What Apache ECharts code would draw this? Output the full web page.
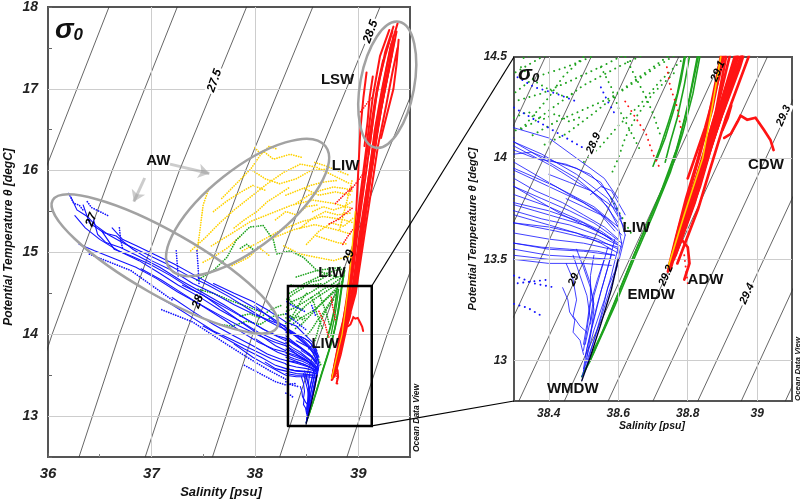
<!DOCTYPE html>
<html>
<head>
<meta charset="utf-8">
<script src="https://cdn.jsdelivr.net/npm/echarts/dist/echarts.min.js"></script>
<style>
html, body { margin: 0; padding: 0; background: #fff; }
#chart { width: 803px; height: 501px; }
</style>
</head>
<body>
<div id="chart"></div>
<script>
// isopycnals, left panel: S read at the given temperatures
var leftSigmas = ['26.5', '27', '27.5', '28', '28.5', '29', '29.5'];
var leftIsoT = [12.5, 14, 16, 18];
var leftIsoS = [
    [35.00, 35.39, 35.97, 36.59],
    [35.65, 36.04, 36.62, 37.25],
    [36.30, 36.69, 37.27, 37.92],
    [36.94, 37.33, 37.91, 38.56],
    [37.59, 37.98, 38.56, 39.21],
    [38.24, 38.63, 39.21, 39.86],
    [38.89, 39.28, 39.86, 40.51]
];
var leftIsoLabels = ['27', '27.5', '28', '28.5', '29'];
var leftIsoLabelPos = [[36.42, 15.40], [37.61, 17.10], [37.45, 14.40], [39.12, 17.70], [38.91, 14.95]];

// isopycnals, right panel
var rightSigmas = ['28.7', '28.8', '28.9', '29', '29.1', '29.2', '29.3', '29.4', '29.5', '29.6'];
var rightIsoT = [12.8, 14.5];
var rightIsoS = [
    [37.930, 38.390], [38.058, 38.522], [38.186, 38.646], [38.314, 38.774], [38.445, 38.900],
    [38.571, 39.029], [38.700, 39.160], [38.829, 39.290], [38.954, 39.410], [39.081, 39.540]
];
var rightIsoLabels = ['28.9', '29', '29.1', '29.2', '29.3', '29.4'];
var rightIsoLabelPos = [[38.529, 14.074], [38.472, 13.40], [38.887, 14.43], [38.738, 13.42], [39.076, 14.21], [38.971, 13.33]];

// profiles [salinity, theta]
var blueTraces = [
    [[36.22,15.68],[36.28,15.52],[36.38,15.44],[36.46,15.33],[36.58,15.22],[36.75,15.10],[36.95,14.98],[37.15,14.86],[37.35,14.72],[37.55,14.60],[37.75,14.46],[37.95,14.30],[38.10,14.18],[38.22,14.10],[38.30,14.06],[38.41,13.96],[38.52,13.84],[38.60,13.74],[38.62,13.62]],
    [[36.44,15.40],[36.48,15.22],[36.56,15.12],[36.70,15.06],[36.88,14.95],[37.08,14.82],[37.28,14.66],[37.48,14.52],[37.70,14.36],[37.90,14.20],[38.08,14.06],[38.22,13.98],[38.30,13.95],[38.42,13.86],[38.53,13.76],[38.60,13.66],[38.61,13.58]],
    [[36.30,15.10],[36.45,15.02],[36.65,14.92],[36.85,14.82],[37.05,14.68],[37.25,14.52],[37.45,14.38],[37.65,14.24],[37.85,14.10],[38.05,13.98],[38.20,13.90],[38.30,13.86],[38.44,13.72],[38.56,13.62],[38.61,13.56]],
    [[36.62,15.30],[36.72,15.16],[36.86,15.08],[37.02,14.98],[37.22,14.86],[37.42,14.72],[37.62,14.58],[37.82,14.45],[38.00,14.32],[38.14,14.22],[38.26,14.12],[38.30,14.08],[38.38,14.02],[38.48,13.92],[38.57,13.80],[38.62,13.65]],
    [[36.90,14.80],[37.10,14.66],[37.30,14.50],[37.50,14.34],[37.70,14.18],[37.88,14.02],[38.04,13.90],[38.18,13.82],[38.30,13.78],[38.40,13.74],[38.50,13.68],[38.58,13.60]],
    [[37.20,14.45],[37.40,14.28],[37.60,14.12],[37.80,13.98],[37.98,13.86],[38.12,13.76],[38.24,13.70],[38.30,13.68],[38.42,13.64],[38.52,13.60],[38.60,13.56]],
    [[37.50,14.10],[37.70,13.96],[37.90,13.82],[38.06,13.72],[38.20,13.62],[38.30,13.58],[38.40,13.55],[38.50,13.54],[38.59,13.52]],
    [[37.80,13.88],[37.98,13.72],[38.12,13.62],[38.24,13.54],[38.30,13.50],[38.40,13.48],[38.50,13.48],[38.58,13.47]],
    [[38.00,14.35],[38.15,14.20],[38.25,14.10],[38.30,14.04],[38.36,14.00],[38.45,13.97],[38.52,13.92],[38.56,13.85],[38.59,13.78],[38.61,13.70]],
    [[36.26,15.45],[36.36,15.30],[36.50,15.16],[36.68,15.02],[36.88,14.90],[37.06,14.76],[37.26,14.60],[37.46,14.46],[37.66,14.30],[37.86,14.16],[38.04,14.02],[38.18,13.94],[38.30,13.88]],
    [[36.52,15.26],[36.64,15.04],[36.80,14.96],[36.98,14.86],[37.18,14.72],[37.38,14.56],[37.58,14.42],[37.78,14.28],[37.98,14.14],[38.14,14.02],[38.30,13.92]],
    [[36.34,15.58],[36.40,15.36],[36.54,15.24],[36.66,15.20],[36.82,15.04],[37.00,14.90],[37.20,14.78],[37.40,14.62],[37.60,14.50],[37.80,14.36],[38.00,14.24],[38.20,14.14],[38.30,14.10]],
    [[37.00,14.50],[37.20,14.36],[37.40,14.20],[37.60,14.04],[37.80,13.92],[38.00,13.80],[38.16,13.70],[38.30,13.64]],
    [[37.60,14.62],[37.80,14.50],[37.98,14.40],[38.12,14.30],[38.24,14.20],[38.30,14.15],[38.40,14.10],[38.48,14.00],[38.56,13.90],[38.60,13.80]],
    [[37.30,14.60],[37.50,14.48],[37.70,14.30],[37.90,14.12],[38.06,13.98],[38.20,13.86],[38.30,13.80]],
    [[38.00,13.95],[38.12,13.85],[38.22,13.78],[38.30,13.74],[38.38,13.70],[38.46,13.67],[38.54,13.62],[38.60,13.57]],
    [[38.10,13.66],[38.20,13.58],[38.30,13.55],[38.40,13.52],[38.50,13.51],[38.58,13.50]],
    [[38.30,13.98],[38.38,13.90],[38.46,13.82],[38.54,13.74],[38.59,13.66]],
    [[38.30,13.90],[38.36,13.84],[38.44,13.78],[38.50,13.72],[38.56,13.66],[38.60,13.60]],
    [[38.30,13.82],[38.40,13.76],[38.48,13.70],[38.55,13.64],[38.60,13.58]],
    [[38.30,13.72],[38.38,13.68],[38.46,13.64],[38.54,13.60],[38.60,13.55]],
    [[38.30,13.63],[38.40,13.60],[38.50,13.58],[38.58,13.55]],
    [[38.30,14.02],[38.35,14.03],[38.42,13.98],[38.48,13.95],[38.55,13.88],[38.58,13.80],[38.60,13.72]],
    [[38.30,14.08],[38.40,13.98],[38.48,13.90],[38.55,13.80],[38.60,13.68]],
    [[38.30,13.94],[38.40,13.86],[38.50,13.78],[38.57,13.70],[38.61,13.62]],
    [[38.30,13.86],[38.38,13.80],[38.46,13.74],[38.53,13.68],[38.58,13.62],[38.61,13.58]],
    [[38.30,13.77],[38.36,13.74],[38.44,13.70],[38.52,13.66],[38.58,13.60]],
    [[38.30,13.68],[38.40,13.66],[38.48,13.63],[38.55,13.58],[38.60,13.53]],
    [[38.30,13.58],[38.38,13.56],[38.46,13.55],[38.54,13.54],[38.59,13.52]],
    [[38.30,13.52],[38.40,13.50],[38.48,13.50],[38.56,13.50]],
    [[38.40,13.92],[38.46,13.88],[38.52,13.84],[38.57,13.76],[38.60,13.66]],
    [[38.45,13.80],[38.50,13.76],[38.55,13.72],[38.59,13.64]],
    [[38.52,13.82],[38.55,13.86],[38.58,13.84],[38.60,13.78],[38.62,13.72]],
    [[38.62,13.62],[38.60,13.48],[38.57,13.32],[38.54,13.15],[38.51,13.00],[38.495,12.92]],
    [[38.60,13.56],[38.58,13.42],[38.56,13.30],[38.53,13.15],[38.51,13.02],[38.50,12.95]],
    [[38.58,13.52],[38.56,13.40],[38.54,13.28],[38.52,13.14],[38.505,13.02]],
    [[38.56,13.50],[38.54,13.40],[38.52,13.28],[38.51,13.15],[38.50,13.05]],
    [[38.61,13.58],[38.59,13.44],[38.57,13.36],[38.55,13.22],[38.53,13.10],[38.51,12.98]],
    [[38.59,13.60],[38.57,13.46],[38.55,13.34],[38.53,13.20],[38.51,13.06],[38.50,12.96]],
    [[38.57,13.56],[38.55,13.44],[38.53,13.32],[38.52,13.20],[38.505,13.08]],
    [[38.53,13.52],[38.52,13.42],[38.52,13.30],[38.51,13.18],[38.50,13.08]],
    [[38.48,13.55],[38.50,13.46],[38.52,13.36],[38.53,13.28],[38.52,13.18]],
    [[38.50,13.48],[38.52,13.38],[38.53,13.25],[38.52,13.12],[38.51,13.02]],
    [[38.47,13.52],[38.49,13.42],[38.51,13.32],[38.52,13.20]],
    [[38.45,13.48],[38.47,13.40],[38.48,13.30],[38.47,13.22],[38.49,13.17],[38.51,13.14]],
    [[38.44,13.36],[38.455,13.30],[38.46,13.24],[38.475,13.20],[38.47,13.14],[38.49,13.10],[38.50,13.03]]
];
var blueDotTraces = [
    [[36.20,15.72],[36.25,15.60],[36.30,15.58],[36.35,15.50]],
    [[36.38,15.62],[36.42,15.55],[36.50,15.50],[36.58,15.45]],
    [[37.24,15.02],[37.25,14.85],[37.26,14.70]],
    [[37.44,15.02],[37.45,14.85],[37.46,14.62]],
    [[36.69,15.30],[36.70,15.18],[36.72,15.05]],
    [[36.40,14.98],[36.60,14.88],[36.80,14.78],[37.00,14.60],[37.20,14.42]],
    [[37.10,14.30],[37.40,14.15],[37.70,13.90],[37.95,13.70],[38.15,13.55],[38.30,13.45]],
    [[37.90,13.62],[38.05,13.52],[38.20,13.42],[38.30,13.38],[38.40,13.40]],
    [[38.30,14.25],[38.35,14.20],[38.40,14.15],[38.45,14.10],[38.50,14.05]],
    [[38.31,14.40],[38.36,14.35],[38.42,14.32],[38.48,14.28]],
    [[38.55,14.35],[38.57,14.28],[38.59,14.22]],
    [[38.30,13.42],[38.36,13.38],[38.42,13.36]],
    [[38.30,13.28],[38.34,13.26],[38.38,13.22]]
];
var greenTraces = [
    [[38.495,12.92],[38.52,13.00],[38.58,13.25],[38.64,13.50],[38.667,13.61],[38.72,13.82],[38.767,14.04],[38.80,14.25],[38.83,14.50],[38.85,14.65],[38.87,14.78]],
    [[38.50,12.94],[38.53,13.04],[38.59,13.27],[38.65,13.52],[38.70,13.72],[38.75,13.93],[38.785,14.12],[38.815,14.32],[38.84,14.55],[38.86,14.72]],
    [[38.52,13.02],[38.56,13.16],[38.60,13.33],[38.645,13.52],[38.69,13.70],[38.74,13.90],[38.775,14.08],[38.805,14.30],[38.825,14.48],[38.85,14.70]],
    [[38.70,13.96],[38.72,14.05],[38.745,14.18],[38.77,14.32],[38.785,14.45],[38.80,14.60]],
    [[38.71,13.99],[38.735,14.10],[38.76,14.24],[38.78,14.38],[38.795,14.52]],
    [[38.735,13.98],[38.75,14.08],[38.77,14.20],[38.79,14.36],[38.81,14.55]]
];
var greenDotTraces = [
    [[38.85,14.72],[38.75,14.68],[38.65,14.60],[38.55,14.52],[38.45,14.45],[38.36,14.40],[38.30,14.32]],
    [[38.84,14.64],[38.72,14.55],[38.61,14.46],[38.50,14.36],[38.42,14.26],[38.35,14.17],[38.28,14.12]],
    [[38.80,14.55],[38.70,14.44],[38.60,14.32],[38.52,14.21],[38.45,14.12],[38.38,14.06]],
    [[38.86,14.80],[38.78,14.78],[38.68,14.74],[38.58,14.68],[38.48,14.62],[38.40,14.55],[38.32,14.49]],
    [[38.76,14.42],[38.70,14.32],[38.65,14.20],[38.62,14.10],[38.60,14.00],[38.58,13.92]],
    [[38.30,14.25],[38.18,14.22],[38.05,14.12],[37.92,14.16],[37.78,14.10],[37.65,14.12]],
    [[37.44,14.66],[37.60,14.78],[37.73,14.94],[37.82,15.15],[37.95,15.31],[38.08,15.33],[38.18,15.15],[38.21,14.98],[38.34,15.02],[38.47,14.94],[38.60,14.78],[38.79,14.70]],
    [[37.86,15.05],[37.92,15.10],[38.00,15.02],[38.04,15.08]],
    [[38.30,14.20],[38.34,14.23],[38.38,14.19],[38.42,14.22],[38.46,14.18],[38.50,14.21]],
    [[38.32,14.45],[38.36,14.38],[38.40,14.34],[38.45,14.30],[38.48,14.33]],
    [[38.55,14.45],[38.58,14.35],[38.60,14.25],[38.63,14.15],[38.66,14.05]],
    [[38.62,14.50],[38.65,14.40],[38.68,14.30],[38.70,14.22],[38.72,14.12]],
    [[38.40,14.70],[38.50,14.74],[38.60,14.78],[38.72,14.80],[38.84,14.82]],
    [[38.35,14.60],[38.45,14.58],[38.55,14.60],[38.65,14.62]],
    [[37.45,14.55],[37.60,14.50],[37.75,14.42],[37.90,14.35],[38.05,14.28]],
    [[38.58,13.80],[38.60,13.74],[38.62,13.68],[38.64,13.62]],
    [[38.82,14.60],[38.74,14.50],[38.66,14.40],[38.58,14.30],[38.50,14.24],[38.42,14.18],[38.34,14.10]],
    [[38.84,14.70],[38.76,14.62],[38.66,14.55],[38.56,14.46],[38.46,14.38],[38.38,14.32],[38.30,14.28]],
    [[38.78,14.48],[38.72,14.38],[38.66,14.26],[38.60,14.16],[38.55,14.06],[38.50,13.98]],
    [[38.50,14.50],[38.44,14.40],[38.40,14.30],[38.36,14.22],[38.32,14.14]],
    [[38.70,14.72],[38.62,14.66],[38.54,14.64],[38.46,14.56],[38.38,14.50],[38.30,14.42]],
    [[38.25,14.35],[38.15,14.30],[38.05,14.20],[37.95,14.25],[37.85,14.22]]
];
var yellowTraces = [
    [[37.38,15.02],[37.52,15.18],[37.66,15.36],[37.80,15.52],[37.96,15.68],[38.12,15.84],[38.28,15.98],[38.44,16.08],[38.60,16.04],[38.76,15.94],[38.92,15.84]],
    [[37.58,15.08],[37.76,15.22],[37.96,15.38],[38.16,15.48],[38.36,15.58],[38.56,15.64],[38.76,15.60],[38.94,15.54]],
    [[37.88,15.02],[38.06,15.14],[38.26,15.28],[38.46,15.38],[38.66,15.44],[38.86,15.40],[38.96,15.36]],
    [[37.68,15.66],[37.82,15.84],[37.96,16.02],[38.08,16.24],[38.18,16.14],[38.34,16.20],[38.46,16.16]],
    [[38.18,15.18],[38.38,15.28],[38.58,15.34],[38.78,15.28],[38.94,15.22]],
    [[37.44,15.00],[37.47,15.28],[37.50,15.58],[37.56,15.80]],
    [[38.48,15.78],[38.62,15.70],[38.78,15.74],[38.94,15.70]],
    [[38.28,15.08],[38.44,14.98],[38.60,14.94],[38.76,14.90],[38.92,14.96]],
    [[37.78,14.84],[37.94,14.94],[38.04,15.06],[38.14,14.96]],
    [[37.98,16.00],[38.10,15.90],[38.24,15.84],[38.40,15.90],[38.54,16.00],[38.70,16.02]],
    [[38.82,15.28],[38.86,15.48],[38.90,15.68],[38.94,15.88]],
    [[38.56,15.50],[38.66,15.56],[38.76,15.52],[38.86,15.56],[38.94,15.62]],
    [[37.60,15.50],[37.72,15.62],[37.84,15.72],[37.98,15.82],[38.10,15.76]],
    [[38.00,16.28],[38.06,16.20],[38.14,16.30],[38.22,16.26]],
    [[38.30,15.70],[38.42,15.76],[38.54,15.82],[38.66,15.86],[38.80,15.88]],
    [[37.50,14.88],[37.62,14.96],[37.74,15.06],[37.86,15.20]],
    [[38.60,15.20],[38.70,15.16],[38.80,15.12],[38.90,15.10]],
    [[38.44,15.30],[38.56,15.42],[38.68,15.50],[38.80,15.46],[38.92,15.48]],
    [[38.40,15.60],[38.52,15.70],[38.64,15.76],[38.76,15.80],[38.88,15.78],[38.96,15.74]],
    [[38.50,15.10],[38.62,15.26],[38.74,15.36],[38.86,15.32],[38.95,15.42]],
    [[38.20,15.40],[38.30,15.50],[38.40,15.46],[38.50,15.56],[38.60,15.58]],
    [[37.80,15.30],[37.90,15.40],[38.02,15.50],[38.12,15.62],[38.22,15.70],[38.34,15.80]],
    [[38.58,16.10],[38.68,16.06],[38.80,16.00],[38.90,15.95]]
];
var yellowEdge = [[38.743,13.46],[38.79,13.72],[38.843,14.00],[38.87,14.25],[38.895,14.50],[38.92,14.80],[38.95,15.20],[38.97,15.50]];
var redTraces = [
    [[38.743,13.44],[38.77,13.60],[38.80,13.78],[38.84,13.98],[38.88,14.22],[38.91,14.50],[38.94,14.80],[38.97,15.20],[39.01,15.60],[39.05,16.00],[39.09,16.40],[39.14,16.90],[39.21,17.40],[39.30,17.72]],
    [[38.75,13.45],[38.785,13.65],[38.82,13.85],[38.855,14.05],[38.90,14.30],[38.935,14.50],[38.97,14.80],[39.01,15.20],[39.06,15.60],[39.11,16.00],[39.16,16.50],[39.23,17.00],[39.31,17.50],[39.38,17.80]],
    [[38.755,13.50],[38.80,13.70],[38.835,13.90],[38.875,14.10],[38.925,14.35],[38.955,14.50],[38.99,14.80],[39.04,15.20],[39.09,15.70],[39.15,16.20],[39.21,16.70],[39.29,17.20],[39.35,17.60]],
    [[38.77,13.48],[38.83,13.75],[38.865,13.95],[38.91,14.20],[38.975,14.50],[39.01,14.80],[39.07,15.30],[39.13,15.80],[39.19,16.30],[39.27,16.80],[39.33,17.20],[39.38,17.50]],
    [[38.745,13.46],[38.765,13.60],[38.795,13.80],[38.83,14.00],[38.86,14.20],[38.895,14.50],[38.92,14.80],[38.95,15.10],[38.98,15.50],[39.00,16.00],[39.02,16.50],[39.05,16.90],[39.08,17.20]],
    [[38.75,13.47],[38.79,13.72],[38.845,13.98],[38.895,14.25],[38.945,14.50],[38.99,14.85],[39.03,15.25],[39.08,15.70],[39.14,16.10],[39.19,16.60],[39.25,17.00],[39.32,17.40]],
    [[38.76,13.55],[38.815,13.82],[38.86,14.08],[38.91,14.35],[38.96,14.60],[39.00,14.95],[39.05,15.40],[39.11,15.90],[39.17,16.40],[39.24,16.90],[39.30,17.30],[39.34,17.65]],
    [[38.80,13.90],[38.85,14.15],[38.89,14.40],[38.93,14.70],[38.96,15.00],[39.00,15.40],[39.04,15.80],[39.08,16.20],[39.13,16.60],[39.18,17.00],[39.24,17.35]],
    [[38.748,13.45],[38.775,13.62],[38.81,13.82],[38.845,14.02],[38.885,14.25],[38.92,14.50],[38.955,14.82],[38.99,15.22],[39.035,15.62],[39.08,16.02],[39.125,16.45],[39.18,16.95],[39.26,17.45],[39.34,17.76]],
    [[38.752,13.48],[38.79,13.68],[38.828,13.88],[38.865,14.08],[38.905,14.30],[38.945,14.52],[38.98,14.82],[39.02,15.22],[39.07,15.65],[39.12,16.10],[39.18,16.60],[39.25,17.10],[39.32,17.55]],
    [[38.76,13.50],[38.81,13.74],[38.85,13.96],[38.895,14.20],[38.94,14.42],[38.965,14.55],[39.00,14.88],[39.05,15.30],[39.10,15.75],[39.16,16.25],[39.22,16.75],[39.30,17.25],[39.37,17.70]],
    [[38.765,13.52],[38.82,13.78],[38.86,14.02],[38.90,14.22],[38.95,14.45],[38.985,14.65],[39.02,15.00],[39.07,15.45],[39.12,15.95],[39.18,16.45],[39.25,16.95],[39.32,17.40]],
    [[38.78,13.60],[38.835,13.86],[38.875,14.10],[38.92,14.34],[38.965,14.56],[39.00,14.80]],
    [[38.79,13.70],[38.84,13.94],[38.885,14.18],[38.93,14.40],[38.98,14.62]],
    [[38.745,13.45],[38.775,13.66],[38.805,13.84],[38.835,14.02],[38.87,14.24],[38.90,14.50]],
    [[39.10,16.20],[39.13,16.50],[39.16,16.80],[39.20,17.10],[39.26,17.40],[39.33,17.70]],
    [[39.06,16.30],[39.09,16.60],[39.11,16.90],[39.14,17.15]],
    [[39.22,16.40],[39.28,16.70],[39.34,17.00],[39.37,17.30],[39.39,17.60]],
    [[38.905,14.10],[38.924,14.12],[38.943,14.18],[38.952,14.21],[38.971,14.19],[38.995,14.20],[39.019,14.14],[39.038,14.09],[39.047,14.04]],
    [[38.90,14.14],[38.915,14.20],[38.925,14.26]],
    [[38.775,13.62],[38.781,13.60],[38.80,13.56],[38.805,13.48],[38.79,13.40]]
];
var redDotTraces = [
    [[38.62,14.28],[38.65,14.20],[38.68,14.12],[38.70,14.02],[38.72,13.95]],
    [[38.74,14.45],[38.75,14.35],[38.77,14.25],[38.78,14.15]],
    [[38.72,15.35],[38.80,15.40],[38.88,15.48],[38.95,15.55]],
    [[38.85,15.10],[38.90,15.20],[38.96,15.30]],
    [[38.92,15.75],[38.98,15.85],[39.04,15.95]],
    [[38.78,15.60],[38.86,15.70],[38.94,15.80]],
    [[39.02,16.72],[39.06,16.78],[39.10,16.85],[39.14,16.90]],
    [[38.79,13.52],[38.795,13.45],[38.80,13.38]]
];
var wmdwCore = [[38.495,12.90],[38.52,13.02],[38.55,13.18],[38.58,13.35],[38.60,13.50]];

// water mass names
var leftMassNames = ['LSW', 'AW', 'LIW', 'LIW', 'LIW'];
var leftMassPos = [[38.80, 17.11], [37.067, 16.12], [38.877, 16.06], [38.746, 14.75], [38.68, 13.88]];
var rightMassNames = ['LIW', 'CDW', 'EMDW', 'ADW', 'WMDW'];
var rightMassPos = [[38.652, 13.657], [39.025, 13.967], [38.695, 13.327], [38.851, 13.40], [38.469, 12.858]];

var FONT = '"Liberation Sans", Arial, sans-serif';
var C = { blue: '#1212ff', green: '#1ea31e', yellow: '#ffd200', red: '#ff1414', iso: '#333', grid: '#cdcdcd', ring: '#a2a2a2' };

var chart = echarts.init(document.getElementById('chart'));

function traceSeries(traces, g, color, width, dash, z) {
    return {
        type: 'lines', coordinateSystem: 'cartesian2d', xAxisIndex: g, yAxisIndex: g,
        polyline: true, silent: true, clip: true, z: z,
        lineStyle: { color: color, width: width, type: dash || 'solid', opacity: 1, cap: 'round' },
        data: traces.map(function (c) { return { coords: c }; })
    };
}
function isoSeries(sList, tList, g) {
    return traceSeries(sList.map(function (row) {
        return row.map(function (s, i) { return [s, tList[i]]; });
    }), g, C.iso, 0.75, 'solid', 1);
}
var clearBg = ['27.5', '28.5', '28.9', '29.3', '29.4'];
function isoLabelSeries(names, pos, g, rot, size) {
    return {
        type: 'scatter', xAxisIndex: g, yAxisIndex: g, symbolSize: 0, silent: true, z: 20,
        itemStyle: { opacity: 1 },
        data: pos.map(function (p, i) {
            return {
                value: p,
                label: {
                    show: true, position: 'inside', rotate: rot, formatter: names[i],
                    fontFamily: FONT, fontSize: size, fontWeight: 'bold', fontStyle: 'italic', color: '#000',
                    backgroundColor: clearBg.indexOf(names[i]) >= 0 ? '#fff' : 'transparent', padding: [0, 2]
                }
            };
        })
    };
}
function gridLineSeries(g, xs, ys) {
    return {
        type: 'scatter', xAxisIndex: g, yAxisIndex: g, symbolSize: 0, silent: true, z: 0, data: [],
        markLine: {
            silent: true, symbol: 'none', animation: false, label: { show: false },
            lineStyle: { color: C.grid, width: 1, type: 'solid' },
            data: xs.map(function (x) { return { xAxis: x }; }).concat(ys.map(function (y) { return { yAxis: y }; }))
        }
    };
}

var series = [];
series.push(gridLineSeries(0, [37, 38, 39], [13, 14, 15, 16, 17]));
series.push(gridLineSeries(1, [38.4, 38.6, 38.8, 39.0], [13, 13.5, 14]));
series.push(isoSeries(leftIsoS, leftIsoT, 0));
series.push(isoSeries(rightIsoS, rightIsoT, 1));
// per panel: [dot size, dot gap, blue width, red width, green width]
var look = [[1.7, 2.4, 1.1, 2.0, 1.3], [1.9, 5.5, 0.8, 2.7, 1.6]];
[0, 1].forEach(function (g) {
    var L = look[g];
    var dots = [0.1, L[1]];
    series.push(traceSeries(yellowTraces, g, C.yellow, L[0], dots, 2));
    series.push(traceSeries(greenDotTraces, g, C.green, L[0], dots, 3));
    series.push(traceSeries(greenTraces, g, C.green, L[4], 'solid', 3));
    series.push(traceSeries(blueDotTraces, g, C.blue, L[0], dots, 4));
    series.push(traceSeries(blueTraces, g, C.blue, L[2], 'solid', 4));
    series.push(traceSeries(redDotTraces, g, C.red, L[0], dots, 5));
    series.push(traceSeries(redTraces, g, C.red, L[3], 'solid', 5));
    series.push(traceSeries([yellowEdge], g, C.yellow, g === 0 ? 1.2 : 1.6, 'solid', 6));
    series.push(traceSeries([wmdwCore], g, '#000033', g === 0 ? 1.2 : 1.4, 'solid', 6));
});
series.push(isoLabelSeries(leftIsoLabels, leftIsoLabelPos, 0, 70, 12));
series.push(isoLabelSeries(rightIsoLabels, rightIsoLabelPos, 1, 66, 11));

// zoom box and AW arrows in the left panel
var zoomBox = [[38.32, 12.88], [39.13, 12.88], [39.13, 14.59], [38.32, 14.59], [38.32, 12.88]];
series.push(traceSeries([zoomBox], 0, '#000', 2.5, 'solid', 30));
series.push({
    type: 'lines', coordinateSystem: 'cartesian2d', xAxisIndex: 0, yAxisIndex: 0, silent: true, z: 30,
    symbol: ['none', 'arrow'], symbolSize: 11,
    lineStyle: { color: '#9a9a9a', width: 3 },
    data: [{ coords: [[37.18, 16.08], [37.56, 15.965]] }, { coords: [[36.935, 15.91], [36.83, 15.62]] }]
});

function intFmt(v) { var r = Math.round(v * 1000) / 1000; return r % 1 === 0 ? String(r) : ''; }
var tickFont = { fontFamily: FONT, fontWeight: 'bold', fontStyle: 'italic', color: '#222' };

var option = {
    animation: false,
    backgroundColor: '#fff',
    grid: [
        { left: 48, top: 7, width: 362, height: 450, show: true, borderColor: '#555', borderWidth: 2, backgroundColor: '#fff' },
        { left: 514, top: 57, width: 278, height: 344, show: true, borderColor: '#555', borderWidth: 2, backgroundColor: '#fff' }
    ],
    xAxis: [
        {
            type: 'value', gridIndex: 0, min: 36, max: 39.5, interval: 1,
            axisLine: { show: false }, splitLine: { show: false },
            axisTick: { show: true, inside: true, length: 4, lineStyle: { color: '#666' } },
            minorTick: { show: true, splitNumber: 2, length: 3, lineStyle: { color: '#888' } },
            axisLabel: Object.assign({ fontSize: 15, margin: 9, formatter: intFmt }, tickFont)
        },
        {
            type: 'value', gridIndex: 1, min: 38.3, max: 39.1, interval: 0.1,
            axisLine: { show: false }, splitLine: { show: false }, axisTick: { show: false },
            axisLabel: Object.assign({
                fontSize: 12, margin: 7,
                formatter: function (v) { var r = Math.round(v * 10); return r % 2 === 0 ? String(r / 10) : ''; }
            }, tickFont)
        }
    ],
    yAxis: [
        {
            type: 'value', gridIndex: 0, min: 12.5, max: 18, interval: 0.5,
            axisLine: { show: false }, splitLine: { show: false },
            axisTick: { show: true, inside: true, length: 4, lineStyle: { color: '#666' } },
            axisLabel: Object.assign({ fontSize: 14, margin: 10, formatter: intFmt }, tickFont)
        },
        {
            type: 'value', gridIndex: 1, min: 12.8, max: 14.5, interval: 0.1,
            axisLine: { show: false }, splitLine: { show: false }, axisTick: { show: false },
            axisLabel: Object.assign({
                fontSize: 12, margin: 7,
                formatter: function (v) { var r = Math.round(v * 10); return r % 5 === 0 ? String(r / 10) : ''; }
            }, tickFont)
        }
    ],
    series: series
};
chart.setOption(option);

// annotations placed from data coordinates
function px(g, p) { return chart.convertToPixel({ gridIndex: g }, p); }
var gr = [];
var ringCenters = [[37.13, 14.86], [37.93, 15.55], [39.28, 17.05]];
var ringRadii = [[129, 32], [99, 39], [64, 27]];
var ringAngles = [-29.6, 38.3, 79.5];
ringCenters.forEach(function (c, i) {
    var p = px(0, c);
    gr.push({
        type: 'ellipse', x: p[0], y: p[1], rotation: ringAngles[i] * Math.PI / 180, z: 100, silent: true,
        shape: { cx: 0, cy: 0, rx: ringRadii[i][0], ry: ringRadii[i][1] },
        style: { fill: 'transparent', stroke: C.ring, lineWidth: 2.5 }
    });
});
var a1 = px(0, [39.13, 14.59]), b1 = px(1, [38.3, 14.5]);
var a2 = px(0, [39.13, 12.88]), b2 = px(1, [38.3, 12.8]);
[[a1, b1], [a2, b2]].forEach(function (s) {
    gr.push({ type: 'line', z: 100, silent: true, shape: { x1: s[0][0], y1: s[0][1], x2: s[1][0], y2: s[1][1] }, style: { stroke: '#000', lineWidth: 1.2 } });
});
function txt(x, y, text, font, rot, align) {
    return {
        type: 'text', x: x, y: y, rotation: rot || 0, z: 110, silent: true,
        style: { text: text, font: font, fill: '#111', align: align || 'center', verticalAlign: 'middle', textAlign: align || 'center', textVerticalAlign: 'middle' }
    };
}
var massFont = 'bold 15px ' + FONT;
leftMassNames.forEach(function (n, i) { var p = px(0, leftMassPos[i]); gr.push(txt(p[0], p[1], n, massFont)); });
rightMassNames.forEach(function (n, i) { var p = px(1, rightMassPos[i]); gr.push(txt(p[0], p[1], n, massFont)); });

gr.push(txt(221, 492, 'Salinity [psu]', 'italic bold 13px ' + FONT));
gr.push(txt(652, 426, 'Salinity [psu]', 'italic bold 10.5px ' + FONT));
gr.push(txt(9, 237, 'Potential Temperature θ [degC]', 'italic bold 12px ' + FONT, Math.PI / 2));
gr.push(txt(473, 229, 'Potential Temperature θ [degC]', 'italic bold 11px ' + FONT, Math.PI / 2));
gr.push(txt(417, 418, 'Ocean Data View', 'italic bold 8.5px ' + FONT, Math.PI / 2));
gr.push(txt(798, 369, 'Ocean Data View', 'italic bold 8px ' + FONT, Math.PI / 2));

function sigmaMark(x, y, big, small) {
    return {
        type: 'text', x: x, y: y, z: 110, silent: true,
        style: {
            text: '{s|σ}{z|0}', fill: '#111',
            rich: {
                s: { font: 'italic bold ' + big + 'px ' + FONT, lineHeight: big, verticalAlign: 'top' },
                z: { font: 'italic bold ' + small + 'px ' + FONT, lineHeight: big, verticalAlign: 'bottom', padding: [big * 0.35, 0, 0, 0] }
            }
        }
    };
}
gr.push(sigmaMark(55, 16, 28, 17));
gr.push(sigmaMark(518, 64, 21, 13));

chart.setOption({ graphic: gr });
</script>
</body>
</html>
